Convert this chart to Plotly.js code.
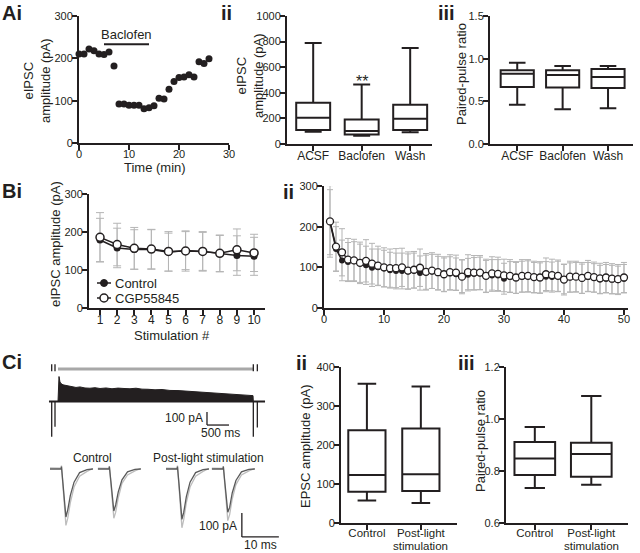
<!DOCTYPE html>
<html><head><meta charset="utf-8">
<script src="https://cdn.plot.ly/plotly-3.0.1.min.js"></script>
<style>html,body{margin:0;padding:0;background:#fff}#chart{width:640px;height:553px}</style>
</head><body><div id="chart"></div>
<script>
// ---------------- DATA ----------------
// Ai: time course
const aiTime = [0,1,2,3,4,5,6,7,8,9,10,11,12,13,14,15,16,17,18,19,20,21,22,23,24,25,26];
const aiAmp  = [210,210,222,218,210,209,215,182,92,92,89,89,89,81,83,88,106,104,127,145,155,156,161,156,192,188,199];
const baclofenStart = 5, baclofenEnd = 14, baclofenLevel = 233;
// Aii / Aiii box plots
const aCats = ['ACSF','Baclofen','Wash'];
const aiiLo  = [96, 65, 91];
const aiiQ1  = [109, 75, 109];
const aiiMed = [205, 101, 197];
const aiiQ3  = [322, 192, 306];
const aiiHi  = [790, 465, 750];
const aiiStarLevel = 485;
const aiiiLo  = [0.459, 0.408, 0.420];
const aiiiQ1  = [0.668, 0.661, 0.657];
const aiiiMed = [0.824, 0.808, 0.785];
const aiiiQ3  = [0.863, 0.863, 0.878];
const aiiiHi  = [0.952, 0.913, 0.913];
// Bi
const biStim = [1,2,3,4,5,6,7,8,9,10];
const biCtrl = [179,158,154,154,147,151,149,143,138,136];
const biCtrlSD = [57,52,52,52,50,50,50,48,52,50];
const biCgp  = [186,167,157,155,149,150,149,144,153,145];
const biCgpSD = [65,56,55,52,52,53,52,48,55,49];
// Bii
const biiStim = [1,2,3,4,5,6,7,8,9,10,11,12,13,14,15,16,17,18,19,20,21,22,23,24,25,26,27,28,29,30,31,32,33,34,35,36,37,38,39,40,41,42,43,44,45,46,47,48,49,50];
const biiCgp = [213,151,137,119,117,111,116,109,104,100,98,98,100,92,94,99,89,92,88,83,88,87,77,88,87,87,79,85,84,80,79,75,79,79,76,75,83,81,79,70,77,77,74,79,76,73,75,72,71,75];
const biiCgpSD = [88,60,58,52,52,51,52,50,48,48,47,48,47,46,45,46,45,44,44,43,43,43,42,43,42,42,41,41,41,40,40,39,40,40,39,39,40,39,39,38,38,38,38,38,37,37,37,37,36,37];
const biiCtrl = [211,145,117,113,115,110,105,99,100,97,93,91,91,90,92,86,88,90,86,82,85,83,78,82,84,85,78,80,80,72,76,74,77,78,75,74,77,76,78,71,75,76,72,76,74,70,72,70,68,72];
const biiCtrlSD = [80,55,50,48,48,47,47,46,45,45,44,44,44,43,43,42,42,42,41,41,41,40,40,40,40,40,39,39,39,38,38,38,38,38,37,37,37,37,37,36,36,36,36,36,35,35,35,35,35,35];
// Ci: train trace (ms, pA) envelope of responses
const trainT   = [0,23,45,68,114,159,227,318,409,500,614,727,841,955,1091,1227,1364,1500,1636,1773,1909,2045,2205,2364,2545,2727,2909,3091,3273,3455,3636,3818,4000,4182,4364,4432,4439];
const trainTop = [0,192,150,138,128,125,118,112,108,112,104,102,106,100,104,98,103,100,98,102,95,94,90,92,85,84,80,76,72,70,64,62,58,56,50,45,0];
const baseT = [-205, 4705];
const pulseT = [-143,-68,4439,4530];
const pulseDepth = [-271,-194,-271,-200];
const lightBarT = [0, 4440];
const lightBarLevel = 250;
// Ci: example paired responses (ms relative, pA)
const wTime = [0,3.0,3.1,3.3,3.5,4.3,4.8,5.5,6.5,8.0,10.0,11.6];
const ctrl1Dark  = [0,0,10,-15,-60,-200,-170,-110,-55,-15,-3,0];
const ctrl1Light = [5,3,14,-20,-70,-235,-205,-140,-75,-30,-10,2];
const ctrl2Dark  = [0,0,10,-15,-50,-175,-150,-95,-45,-12,-2,0];
const ctrl2Light = [4,2,12,-18,-60,-205,-180,-120,-60,-25,-8,2];
const post1Dark  = [0,0,10,-15,-60,-210,-180,-115,-55,-15,-3,0];
const post1Light = [4,2,14,-20,-70,-245,-210,-140,-75,-30,-10,2];
const post2Dark  = [0,0,10,-15,-55,-180,-160,-100,-48,-12,-2,0];
const post2Light = [4,2,12,-18,-65,-215,-190,-125,-65,-25,-8,2];
// Cii / Ciii
const cCats = ['Control','Post-light'];
const cCats2 = ['', 'stimulation'];
const ciiLo  = [58, 51];
const ciiQ1  = [80, 82];
const ciiMed = [123, 125];
const ciiQ3  = [238, 242];
const ciiHi  = [357, 350];
const ciiiLo  = [0.735, 0.747];
const ciiiQ1  = [0.785, 0.778];
const ciiiMed = [0.848, 0.865];
const ciiiQ3  = [0.912, 0.909];
const ciiiHi  = [0.969, 1.088];

// ---------------- LAYOUT HELPERS ----------------
const W=640,H=553;
const fx=p=>p/W, fy=p=>1-p/H;
const dom=(a,b)=>[a/W,b/W], domY=(t,b)=>[1-b/H,1-t/H];
const INK='#231f20';
const FONT='Liberation Sans, Arial, Helvetica, sans-serif';
function ax(extra){
  return Object.assign({showline:true,linecolor:INK,linewidth:2,ticks:'outside',ticklen:5,tickwidth:2,tickcolor:INK,
    ticklabelstandoff:-3,
    showgrid:false,zeroline:false,tickfont:{family:FONT,size:11,color:INK},fixedrange:true}, extra);
}
const xax=(extra)=>ax(Object.assign({ticklabelstandoff:-5},extra));
const catFont={family:FONT,size:12,color:INK};
const cFont={family:FONT,size:11.5,color:INK};
const smFont={family:FONT,size:11,color:INK};
const hid = (extra)=>Object.assign({visible:false,showgrid:false,zeroline:false,fixedrange:true},extra);

const traces=[];
// Ai
traces.push({type:'scatter',mode:'markers',x:aiTime,y:aiAmp,xaxis:'x',yaxis:'y',cliponaxis:false,
  marker:{size:7,color:INK},hoverinfo:'skip'});
// boxes
function boxTrace(xa,ya,n,lo,q1,med,q3,hi,w){
  const xs=[]; for(let i=0;i<n;i++) xs.push(i);
  return {type:'box',x:xs,lowerfence:lo,q1:q1,median:med,q3:q3,upperfence:hi,xaxis:xa,yaxis:ya,
    fillcolor:'white',line:{color:INK,width:2},whiskerwidth:0.5,width:w,boxpoints:false,hoverinfo:'skip'};
}
traces.push(boxTrace('x2','y2',3,aiiLo,aiiQ1,aiiMed,aiiQ3,aiiHi,0.70));
traces.push(boxTrace('x3','y3',3,aiiiLo,aiiiQ1,aiiiMed,aiiiQ3,aiiiHi,0.73));
traces.push(boxTrace('x6','y6',2,ciiLo,ciiQ1,ciiMed,ciiQ3,ciiHi,0.69));
traces.push(boxTrace('x7','y7',2,ciiiLo,ciiiQ1,ciiiMed,ciiiQ3,ciiiHi,0.72));
// error bars first
const EB='#b5b5b5';
function errTrace(xa,ya,x,y,sd,w){
  return {type:'scatter',mode:'markers',x:x,y:y,xaxis:xa,yaxis:ya,cliponaxis:false,
    marker:{size:1,color:'rgba(0,0,0,0)'},error_y:{type:'data',array:sd,visible:true,color:EB,thickness:1,width:w},hoverinfo:'skip'};
}
traces.push(errTrace('x4','y4',biStim,biCtrl,biCtrlSD,4));
traces.push(errTrace('x4','y4',biStim,biCgp,biCgpSD,4));
traces.push(errTrace('x5','y5',biiStim,biiCtrl,biiCtrlSD,3));
traces.push(errTrace('x5','y5',biiStim,biiCgp,biiCgpSD,3));
traces.push({type:'scatter',mode:'lines+markers',x:biStim,y:biCtrl,xaxis:'x4',yaxis:'y4',cliponaxis:false,
  line:{color:INK,width:1.5},marker:{size:7,color:INK},hoverinfo:'skip'});
traces.push({type:'scatter',mode:'lines+markers',x:biStim,y:biCgp,xaxis:'x4',yaxis:'y4',cliponaxis:false,
  line:{color:INK,width:1.5},marker:{size:8,color:'white',line:{color:INK,width:1.5}},hoverinfo:'skip'});
traces.push({type:'scatter',mode:'lines+markers',x:biiStim,y:biiCtrl,xaxis:'x5',yaxis:'y5',cliponaxis:false,
  line:{color:INK,width:1.5},marker:{size:6,color:INK},hoverinfo:'skip'});
traces.push({type:'scatter',mode:'lines+markers',x:biiStim,y:biiCgp,xaxis:'x5',yaxis:'y5',cliponaxis:false,
  line:{color:INK,width:1.5},marker:{size:7,color:'white',line:{color:INK,width:1.3}},hoverinfo:'skip'});
// Ci train
traces.push({type:'scatter',mode:'lines',x:baseT,y:[0,0],xaxis:'x8',yaxis:'y8',line:{color:INK,width:2},hoverinfo:'skip'});
traces.push({type:'scatter',mode:'lines',x:trainT,y:trainTop,xaxis:'x8',yaxis:'y8',fill:'tozeroy',fillcolor:INK,
  line:{color:INK,width:1},hoverinfo:'skip'});
pulseT.forEach((t,i)=>{
  traces.push({type:'scatter',mode:'lines',x:[t,t],y:[0,pulseDepth[i]],xaxis:'x8',yaxis:'y8',line:{color:INK,width:1.3},hoverinfo:'skip'});
});
traces.push({type:'scatter',mode:'lines',x:lightBarT,y:[lightBarLevel,lightBarLevel],xaxis:'x8',yaxis:'y8',line:{color:'#a8a8a8',width:3},hoverinfo:'skip'});
traces.push({type:'scatter',mode:'markers',x:pulseT,y:pulseT.map(()=>lightBarLevel+10),xaxis:'x8',yaxis:'y8',
  marker:{symbol:'line-ns',size:5,line:{color:INK,width:1.3}},hoverinfo:'skip'});
// Ci example traces
const segStarts=[1.35,14.3,32.7,45.1];
const lights=[ctrl1Light,ctrl2Light,post1Light,post2Light];
const darks=[ctrl1Dark,ctrl2Dark,post1Dark,post2Dark];
lights.forEach((arr,i)=>{
  traces.push({type:'scatter',mode:'lines',x:wTime.map(t=>t+segStarts[i]),y:arr,xaxis:'x9',yaxis:'y9',
    line:{color:'#bdbdbd',width:1.3},hoverinfo:'skip'});
});
darks.forEach((arr,i)=>{
  traces.push({type:'scatter',mode:'lines',x:wTime.map(t=>t+segStarts[i]),y:arr,xaxis:'x9',yaxis:'y9',
    line:{color:'#5a5a5a',width:1.3},hoverinfo:'skip'});
});

// ---------------- AXES ----------------
const layout={
  width:W,height:H,margin:{l:0,r:0,t:0,b:0},paper_bgcolor:'white',plot_bgcolor:'rgba(0,0,0,0)',
  showlegend:false,font:{family:FONT,color:INK},
  xaxis:xax({domain:dom(79,229),range:[0,30],tickvals:[0,10,20,30],anchor:'y'}),
  yaxis:ax({domain:domY(16,143),range:[0,300],tickvals:[0,100,200,300],anchor:'x'}),
  xaxis2:xax({domain:dom(287,432),range:[-0.54,2.45],tickvals:[0,1,2],ticktext:aCats,anchor:'y2',tickfont:catFont}),
  yaxis2:ax({domain:domY(16,144),range:[0,1000],tickvals:[0,200,400,600,800,1000],anchor:'x2'}),
  xaxis3:xax({domain:dom(490,633),range:[-0.60,2.55],tickvals:[0,1,2],ticktext:aCats,anchor:'y3',tickfont:catFont}),
  yaxis3:ax({domain:domY(16,144),range:[0,1.5],tickvals:[0,0.5,1,1.5],tickformat:'.1f',anchor:'x3'}),
  xaxis4:xax({domain:dom(89,265),range:[0.357,10.64],tickvals:biStim,anchor:'y4',tickfont:catFont}),
  yaxis4:ax({domain:domY(194,308),range:[0,300],tickvals:[0,100,200,300],anchor:'x4'}),
  xaxis5:xax({domain:dom(324,628),range:[0,50.67],tickvals:[0,10,20,30,40,50],anchor:'y5',tickfont:smFont}),
  yaxis5:ax({domain:domY(186,308),range:[0,300],tickvals:[0,100,200,300],anchor:'x5',tickfont:smFont}),
  xaxis6:xax({domain:dom(341,457),range:[-0.48,1.67],tickvals:[0,1],ticktext:cCats,anchor:'y6',tickfont:cFont,ticklabelstandoff:-7}),
  yaxis6:ax({domain:domY(367,523),range:[0,400],tickvals:[0,100,200,300,400],anchor:'x6'}),
  xaxis7:xax({domain:dom(506,628),range:[-0.51,1.65],tickvals:[0,1],ticktext:cCats,anchor:'y7',tickfont:cFont,ticklabelstandoff:-7}),
  yaxis7:ax({domain:domY(367,523),range:[0.6,1.2],tickvals:[0.6,0.8,1.0,1.2],tickformat:'.1f',anchor:'x7'}),
  xaxis8:hid({domain:dom(40,270),range:[-409,4818],anchor:'y8'}),
  yaxis8:hid({domain:domY(360,440),range:[-296,319],anchor:'x8'}),
  xaxis9:hid({domain:dom(45,285),range:[0,64.86],anchor:'y9'}),
  yaxis9:hid({domain:domY(455,545),range:[-316.7,58.3],anchor:'x9'}),
};

// ---------------- SHAPES ----------------
const shapes=[];
shapes.push({type:'line',xref:'x',yref:'y',x0:baclofenStart,x1:baclofenEnd,y0:baclofenLevel,y1:baclofenLevel,line:{color:INK,width:2}});
// scale bars
shapes.push({type:'line',xref:'x8',yref:'y8',x0:3386,x1:3386,y0:-181,y1:-81,line:{color:INK,width:1.3}});
shapes.push({type:'line',xref:'x8',yref:'y8',x0:3386,x1:3886,y0:-181,y1:-181,line:{color:INK,width:1.3}});
shapes.push({type:'line',xref:'x9',yref:'y9',x0:53.2,x1:53.2,y0:-283,y1:-183,line:{color:INK,width:1.3}});
shapes.push({type:'line',xref:'x9',yref:'y9',x0:53.2,x1:63.2,y0:-283,y1:-283,line:{color:INK,width:1.3}});
// Bi legend symbols
shapes.push({type:'line',xref:'paper',yref:'paper',x0:fx(97),x1:fx(111),y0:fy(283),y1:fy(283),line:{color:INK,width:1.5}});
shapes.push({type:'circle',xref:'paper',yref:'paper',x0:fx(100.5),x1:fx(107.5),y0:fy(286.5),y1:fy(279.5),fillcolor:INK,line:{color:INK,width:1}});
shapes.push({type:'line',xref:'paper',yref:'paper',x0:fx(97),x1:fx(111),y0:fy(298),y1:fy(298),line:{color:INK,width:1.5}});
shapes.push({type:'circle',xref:'paper',yref:'paper',x0:fx(100),x1:fx(108),y0:fy(302),y1:fy(294),fillcolor:'white',line:{color:INK,width:1.5}});
layout.shapes=shapes;

// ---------------- TEXT ----------------
function A(text,x,y,o){
  o=o||{};
  return {text:text,xref:'paper',yref:'paper',x:fx(x),y:fy(y),showarrow:false,
    xanchor:o.xa||'center',yanchor:o.ya||'middle',textangle:o.rot||0,
    font:{family:FONT,size:o.size||13,color:INK,weight:o.bold?'bold':'normal'}};
}
const anns=[
  A('Ai',12,13,{bold:true,size:20}),
  A('ii',226,13,{bold:true,size:20}),
  A('iii',446,13,{bold:true,size:20}),
  A('Bi',12,191,{bold:true,size:20}),
  A('ii',288,192,{bold:true,size:20}),
  A('Ci',12,362,{bold:true,size:20}),
  A('ii',301,363,{bold:true,size:20}),
  A('iii',466,363,{bold:true,size:20}),
  A('eIPSC<br>amplitude (pA)',37,81,{rot:-90}),
  A('Time (min)',155,167),
  A('eIPSC<br>amplitude (pA)',250,76,{rot:-90}),
  A('Paired-pulse ratio',462,74,{rot:-90}),
  A('eIPSC amplitude (pA)',55,244,{rot:-90}),
  A('Stimulation #',172,335),
  A('Control',113,283,{xa:'left',size:13}),
  A('CGP55845',113,298,{xa:'left',size:13}),
  A('EPSC amplitude (pA)',305,446,{rot:-90}),
  A('Paired-pulse ratio',480,441,{rot:-90}),
  A('100 pA',205,418,{xa:'right',size:12}),
  A('500 ms',220,433,{size:12}),
  A('Control',92,458,{size:12}),
  A('Post-light stimulation',208,458,{size:12}),
  A('100 pA',239,526,{xa:'right',size:12}),
  A('10 ms',260,545,{size:12}),
];
// second line of the Cii / Ciii category labels
anns.push({text:cCats2[1],xref:'x6',yref:'paper',x:1,y:fy(545.5),yanchor:'middle',showarrow:false,font:cFont});
anns.push({text:cCats2[1],xref:'x7',yref:'paper',x:1,y:fy(545.5),yanchor:'middle',showarrow:false,font:cFont});
anns.push({text:'Baclofen',xref:'x',yref:'y',x:(baclofenStart+baclofenEnd)/2,y:baclofenLevel,yanchor:'bottom',yshift:0,
  showarrow:false,font:{family:FONT,size:13,color:INK}});
anns.push({text:'**',xref:'x2',yref:'y2',x:1,y:aiiStarLevel,yanchor:'middle',showarrow:false,font:{family:FONT,size:16,color:INK}});
layout.annotations=anns;

Plotly.newPlot('chart',traces,layout,{staticPlot:true,displayModeBar:false});
</script>
</body></html>
